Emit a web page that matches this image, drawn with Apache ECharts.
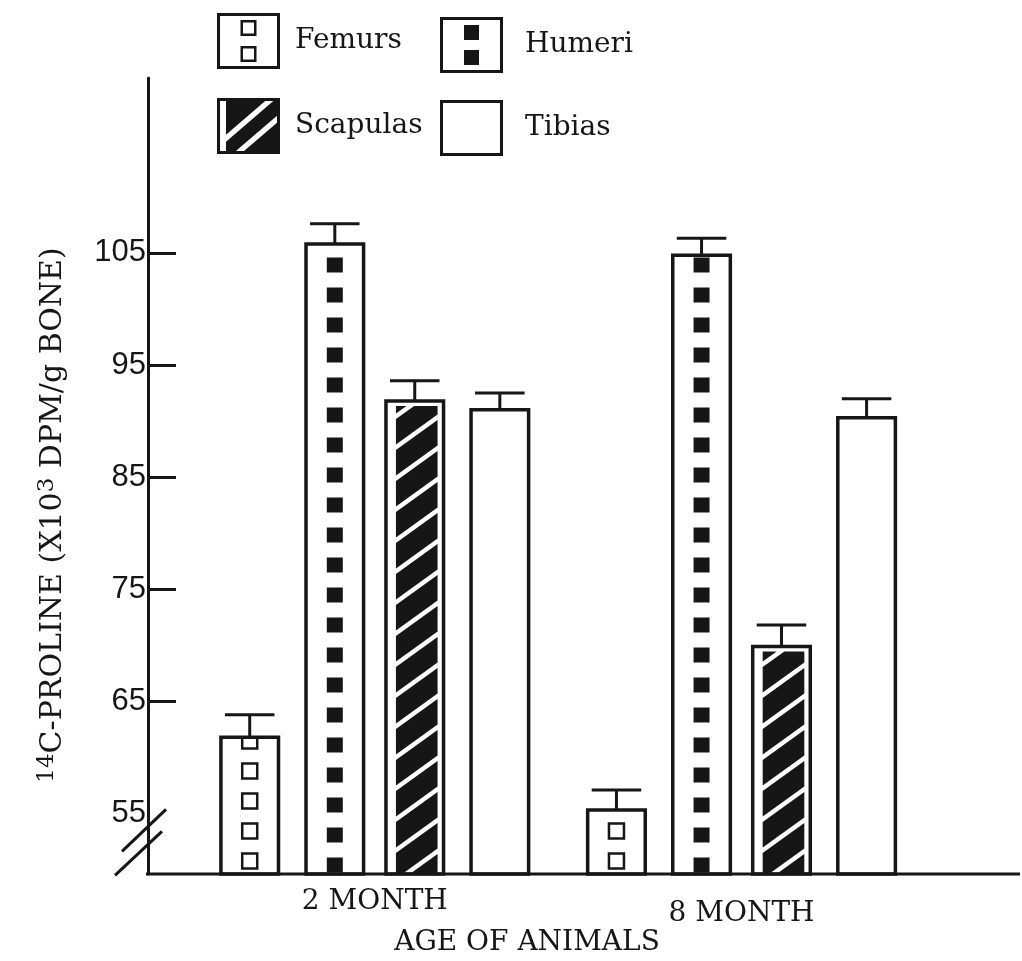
<!DOCTYPE html>
<html>
<head>
<meta charset="utf-8">
<script src="https://cdn.jsdelivr.net/npm/echarts@6/dist/echarts.min.js"></script>
<style>
html,body{margin:0;padding:0;background:#ffffff;}
#chart{width:1022px;height:961px;}
</style>
</head>
<body>
<div id="chart"></div>
<script>
// ---------------- DATA ----------------
const categories = ['2 MONTH', '8 MONTH'];
const boneNames = ['Femurs', 'Humeri', 'Scapulas', 'Tibias'];
const femurs = [61.8, 55.3];
const femursSE = [2.0, 1.8];
const humeri = [105.8, 104.8];
const humeriSE = [1.8, 1.5];
const scapulas = [91.8, 69.9];
const scapulasSE = [1.8, 1.9];
const tibias = [91.0, 90.3];
const tibiasSE = [1.5, 1.7];
const yTickLabels = [55, 65, 75, 85, 95, 105];
const yTickMarks = [65, 75, 85, 95, 105];
const xAxisTitle = 'AGE OF ANIMALS';

// ---------------- STYLE / LAYOUT ----------------
const INK = '#161616';
const Y_MIN = 49.6, Y_MAX = 120.6;
const GRID_LEFT = 191.4, GRID_RIGHT = 97.1, GRID_TOP = 78, GRID_BOTTOM = 87;
const AXIS_X = 148;
const SERIF = '"DejaVu Serif", serif';
const SANS = '"Liberation Sans", Arial, sans-serif';
const OFFSETS = [-0.341, -0.109, 0.109, 0.341];
const BAR_FRAC = 0.157;

const allValues = [femurs, humeri, scapulas, tibias];
const allSE = [femursSE, humeriSE, scapulasSE, tibiasSE];

// clip a polygon against an axis-aligned rectangle
function clipPoly(pts, xmin, ymin, xmax, ymax) {
  const edges = [
    [p => p[0] >= xmin, (a, b) => { const t = (xmin - a[0]) / (b[0] - a[0]); return [xmin, a[1] + t * (b[1] - a[1])]; }],
    [p => p[0] <= xmax, (a, b) => { const t = (xmax - a[0]) / (b[0] - a[0]); return [xmax, a[1] + t * (b[1] - a[1])]; }],
    [p => p[1] >= ymin, (a, b) => { const t = (ymin - a[1]) / (b[1] - a[1]); return [a[0] + t * (b[0] - a[0]), ymin]; }],
    [p => p[1] <= ymax, (a, b) => { const t = (ymax - a[1]) / (b[1] - a[1]); return [a[0] + t * (b[0] - a[0]), ymax]; }]
  ];
  let out = pts;
  for (const [inside, inter] of edges) {
    const inp = out; out = [];
    if (!inp.length) break;
    for (let i = 0; i < inp.length; i++) {
      const cur = inp[i], prev = inp[(i + inp.length - 1) % inp.length];
      const ci = inside(cur), pi = inside(prev);
      if (ci) { if (!pi) out.push(inter(prev, cur)); out.push(cur); }
      else if (pi) out.push(inter(prev, cur));
    }
  }
  return out;
}

// black diagonal bands ("/" direction) inside a rectangle
function hatchPolys(L, T, R, B, slope, period, black, anchor) {
  const polys = [];
  const W = R - L;
  for (let j = -4; j < 200; j++) {
    const c = anchor - j * period;
    if (c + black < T - 1) break;
    if (c - slope * W > B + period) continue;
    const poly = [[L, c], [R, c - slope * W], [R, c - slope * W + black], [L, c + black]];
    const cl = clipPoly(poly, L, T, R, B);
    if (cl.length >= 3) polys.push(cl);
  }
  return polys;
}

// black pieces separated by explicit white bands (used for the legend swatch)
function bandedPolys(L, T, R, B, slope, whiteCenters, halfWhite) {
  const W = R - L;
  const cuts = [-1000].concat(whiteCenters.flatMap(a => [a - halfWhite, a + halfWhite])).concat([1000]);
  const polys = [];
  for (let i = 0; i < cuts.length; i += 2) {
    const a = cuts[i], b = cuts[i + 1];
    const poly = [[L, a], [R, a - slope * W], [R, b - slope * W], [L, b]];
    const cl = clipPoly(poly, L, T, R, B);
    if (cl.length >= 3) polys.push(cl);
  }
  return polys;
}

function makeRenderer(k) {
  return function (params, api) {
    const cat = api.value(0), val = api.value(1), se = api.value(2);
    const topPt = api.coord([cat, val]);
    const basePt = api.coord([cat, Y_MIN]);
    const errPt = api.coord([cat, val + se]);
    const band = api.size([1, 0])[0];
    const cx = topPt[0] + OFFSETS[k] * band;
    const w = band * BAR_FRAC;
    const x0 = cx - w / 2, x1 = cx + w / 2, y0 = topPt[1], y1 = basePt[1];
    const ch = [];
    ch.push({ type: 'rect', shape: { x: x0, y: y0, width: w, height: y1 - y0 }, style: { fill: '#fff', stroke: 'none' } });
    if (k === 0) {
      for (let j = 0; j < 100; j++) {
        const cy = y1 - 13 - 30 * j;
        if (cy + 7.5 < y0) break;
        const ty = Math.max(cy - 7.5, y0);
        ch.push({ type: 'rect', shape: { x: cx - 7.5, y: ty, width: 15, height: cy + 7.5 - ty }, style: { fill: 'none', stroke: INK, lineWidth: 2.5 } });
      }
    } else if (k === 1) {
      for (let j = 0; j < 100; j++) {
        const cy = y1 - 9 - 30 * j;
        if (cy + 7.5 < y0) break;
        const ty = Math.max(cy - 7.5, y0);
        ch.push({ type: 'rect', shape: { x: cx - 8, y: ty, width: 16, height: cy + 7.5 - ty }, style: { fill: INK, stroke: 'none' } });
      }
    } else if (k === 2) {
      const polys = hatchPolys(x0 + 10, y0 + 5, x1 - 6, y1, 0.72, 31, 25.5, y1 + 10);
      polys.forEach(p => ch.push({ type: 'polygon', shape: { points: p }, style: { fill: INK, stroke: 'none' } }));
    }
    ch.push({ type: 'rect', shape: { x: x0, y: y0, width: w, height: y1 - y0 }, style: { fill: 'none', stroke: INK, lineWidth: 3.5 } });
    const capW = w * 0.86;
    ch.push({ type: 'line', shape: { x1: cx, y1: y0, x2: cx, y2: errPt[1] }, style: { stroke: INK, lineWidth: 3 } });
    ch.push({ type: 'line', shape: { x1: cx - capW / 2, y1: errPt[1], x2: cx + capW / 2, y2: errPt[1] }, style: { stroke: INK, lineWidth: 3 } });
    return { type: 'group', children: ch };
  };
}

// legend icons (filled paths, nonzero winding)
const f2 = v => (+v).toFixed(2);
function rectCW(x, y, w, h) { return `M${f2(x)},${f2(y)}H${f2(x + w)}V${f2(y + h)}H${f2(x)}Z`; }
function rectCCW(x, y, w, h) { return `M${f2(x)},${f2(y)}V${f2(y + h)}H${f2(x + w)}V${f2(y)}Z`; }
const IW = 63, IH = 56;
const frame = rectCW(0, 0, IW, IH) + rectCCW(3, 3, IW - 6, IH - 6);
const iconFemurs = frame + rectCW(23.5, 7, 16, 16) + rectCCW(26, 9.5, 11, 11) + rectCW(23.5, 33, 16, 16) + rectCCW(26, 35.5, 11, 11);
const iconHumeri = frame + rectCW(24, 8, 15, 15) + rectCW(24, 33, 15, 15);
const iconScap = frame + bandedPolys(9, 3, 60, 53, 0.86, [40.2, 65], 3.5)
  .map(p => 'M' + p.map(q => f2(q[0]) + ',' + f2(q[1])).join('L') + 'Z').join('');
const iconTibias = frame;
const icons = { Femurs: iconFemurs, Humeri: iconHumeri, Scapulas: iconScap, Tibias: iconTibias };

const chart = echarts.init(document.getElementById('chart'), null, { renderer: 'canvas' });

function legendCfg(names, left, top, gap, textPad) {
  return {
    orient: 'vertical', left: left, top: top, itemGap: gap, padding: 0,
    itemWidth: IW, itemHeight: IH, selectedMode: false,
    data: names.map(n => ({ name: n, icon: 'path://' + icons[n], itemStyle: { color: INK, borderWidth: 0 } })),
    textStyle: { fontFamily: SERIF, fontSize: 28, color: INK, padding: [0, 0, 0, textPad] }
  };
}

const option = {
  backgroundColor: '#ffffff',
  animation: false,
  legend: [
    legendCfg(['Femurs', 'Scapulas'], 217, 13, 29, 10),
    legendCfg(['Humeri', 'Tibias'], 440, 17, 27, 17)
  ],
  grid: { left: GRID_LEFT, right: GRID_RIGHT, top: GRID_TOP, bottom: GRID_BOTTOM, containLabel: false },
  xAxis: {
    type: 'category', data: categories,
    axisLine: { show: false }, axisTick: { show: false }, splitLine: { show: false },
    axisLabel: {
      margin: 14, color: INK,
      formatter: (v, i) => i === 0 ? '{a|' + v + '}' : '{b|' + v + '}',
      rich: {
        a: { fontFamily: SERIF, fontSize: 28, color: INK },
        b: { fontFamily: SERIF, fontSize: 28, color: INK, padding: [12, 0, 0, 0] }
      }
    }
  },
  yAxis: {
    type: 'value', min: Y_MIN, max: Y_MAX, offset: GRID_LEFT - AXIS_X,
    splitLine: { show: false },
    axisLine: { show: true, lineStyle: { color: INK, width: 3 } },
    axisTick: { show: true, inside: true, length: 28, lineStyle: { color: INK, width: 3 }, customValues: yTickMarks },
    axisLabel: { customValues: yTickLabels, margin: 2, fontFamily: SANS, fontSize: 31, color: INK }
  },
  series: boneNames.map((name, k) => ({
    type: 'custom', name: name, clip: false,
    itemStyle: { color: INK, borderWidth: 0 },
    encode: { x: 0, y: 1 },
    renderItem: makeRenderer(k),
    data: categories.map((c, i) => [i, allValues[k][i], allSE[k][i]])
  }))
};
chart.setOption(option);

const baseY = chart.convertToPixel({ yAxisIndex: 0 }, Y_MIN);
const y55 = chart.convertToPixel({ yAxisIndex: 0 }, 55);
chart.setOption({
  graphic: [
    { type: 'line', shape: { x1: AXIS_X - 2, y1: baseY, x2: 1020, y2: baseY }, style: { stroke: INK, lineWidth: 3 }, z: 10 },
    { type: 'line', shape: { x1: AXIS_X - 26, y1: y55 + 38, x2: AXIS_X + 18, y2: y55 - 4 }, style: { stroke: INK, lineWidth: 3 }, z: 10 },
    { type: 'line', shape: { x1: AXIS_X - 33, y1: y55 + 62, x2: AXIS_X + 14, y2: y55 + 18 }, style: { stroke: INK, lineWidth: 3 }, z: 10 },
    { type: 'text', x: 527, y: 943, style: { text: xAxisTitle, fontFamily: SERIF, fontSize: 28, fill: INK, align: 'center', verticalAlign: 'middle' }, z: 10 },
    {
      type: 'text', x: 52, y: 515, rotation: Math.PI / 2, z: 10,
      style: {
        text: '{s|14}{m|C-PROLINE (X10}{s|3}{m| DPM/g BONE)}',
        align: 'center', verticalAlign: 'middle',
        rich: {
          m: { fontFamily: SERIF, fontSize: 30, fill: INK, lineHeight: 32, verticalAlign: 'bottom' },
          s: { fontFamily: SERIF, fontSize: 23, fill: INK, lineHeight: 23, padding: [0, 0, 14, 0], verticalAlign: 'top' }
        }
      }
    }
  ]
});
</script>
</body>
</html>
